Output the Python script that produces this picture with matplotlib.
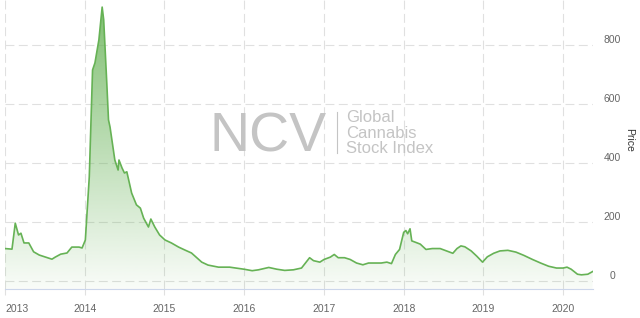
import numpy as np
import pandas as pd
import matplotlib
matplotlib.use("Agg")
import matplotlib.pyplot as plt
import matplotlib.dates as mdates
from matplotlib.lines import Line2D
from matplotlib.colors import to_rgb

plt.rcParams['font.family'] = ['Liberation Sans', 'DejaVu Sans']

# NCV Global Cannabis Stock Index
dates = [
    "2013-01-01", "2013-02-02", "2013-02-17", "2013-03-04", "2013-03-15", "2013-03-29",
    "2013-04-20", "2013-05-12", "2013-06-07", "2013-07-06", "2013-08-04", "2013-08-19",
    "2013-09-13", "2013-10-12", "2013-11-03", "2013-12-06", "2013-12-20", "2014-01-04",
    "2014-01-22", "2014-02-06", "2014-02-17", "2014-03-07", "2014-03-22", "2014-03-29",
    "2014-04-13", "2014-04-20", "2014-04-27", "2014-05-19", "2014-06-03", "2014-06-07",
    "2014-06-21", "2014-07-02", "2014-07-13", "2014-08-04", "2014-08-26", "2014-09-13",
    "2014-09-28", "2014-10-20", "2014-10-31", "2014-11-18", "2014-12-10", "2015-01-04",
    "2015-02-02", "2015-03-07", "2015-04-05", "2015-05-05", "2015-06-21", "2015-07-20",
    "2015-09-06", "2015-10-27", "2015-11-24", "2016-01-01", "2016-02-07", "2016-03-07",
    "2016-04-23", "2016-05-30", "2016-07-05", "2016-08-14", "2016-09-20", "2016-10-08",
    "2016-10-27", "2016-11-14", "2016-12-13", "2017-01-01", "2017-01-30", "2017-02-17",
    "2017-03-07", "2017-04-05", "2017-05-01", "2017-05-30", "2017-06-28", "2017-07-24",
    "2017-09-20", "2017-10-16", "2017-11-06", "2017-11-24", "2017-12-13", "2018-01-01",
    "2018-01-11", "2018-01-19", "2018-01-30", "2018-02-07", "2018-02-25", "2018-03-18",
    "2018-04-13", "2018-05-12", "2018-06-17", "2018-07-16", "2018-08-14", "2018-09-02",
    "2018-09-20", "2018-10-08", "2018-11-06", "2018-12-02", "2018-12-28", "2019-01-19",
    "2019-02-17", "2019-03-18", "2019-04-23", "2019-05-30", "2019-07-05", "2019-08-14",
    "2019-09-20", "2019-10-27", "2019-12-02", "2020-01-01", "2020-01-19", "2020-02-07",
    "2020-03-07", "2020-03-25", "2020-04-23", "2020-05-15",
]
prices = [
    110, 108, 196, 156, 162, 129,
    129, 99, 88, 81, 74, 81,
    91, 95, 115, 115, 112, 139,
    353, 715, 739, 817, 928, 885,
    658, 546, 522, 410, 376, 410,
    383, 366, 370, 298, 258, 247,
    213, 183, 210, 183, 156, 139,
    129, 115, 105, 95, 64, 54,
    47, 47, 44, 40, 35, 38,
    46, 40, 36, 38, 44, 61,
    79, 69, 64, 73, 81, 90,
    79, 79, 73, 61, 55, 61,
    61, 64, 59, 90, 107, 165,
    171, 160, 177, 136, 131, 125,
    107, 110, 110, 102, 94, 110,
    119, 116, 102, 84, 64, 82,
    94, 102, 104, 98, 87, 73,
    61, 50, 44, 44, 47, 40,
    23, 21, 23, 32,
]
y_ticks = [0, 200, 400, 600, 800]
x_years = [2013, 2014, 2015, 2016, 2017, 2018, 2019, 2020]

x = mdates.date2num(pd.to_datetime(dates))
y = np.array(prices, dtype=float)

line_col = '#66b255'
grid_col = '#e0e0e0'
ymin, ymax = -27, 952
xmin = mdates.date2num(pd.Timestamp("2013-01-01"))
xmax = mdates.date2num(pd.Timestamp("2020-05-17"))

fig = plt.figure(figsize=(6.4, 3.18), dpi=100)
ax = fig.add_axes([5/640, 1 - 289/318, 588/640, 289/318])

# gradient fill under the line
poly = ax.fill_between(x, y, ymin, facecolor='none', edgecolor='none')
rgb = to_rgb(line_col)
grad = np.zeros((256, 1, 4))
grad[:, 0, :3] = rgb
grad[:, 0, 3] = np.linspace(0.85, 0.04, 256)
im = ax.imshow(grad, extent=[xmin, xmax, ymin, ymax], aspect='auto',
               origin='upper', zorder=1, interpolation='bilinear')
im.set_clip_path(poly.get_paths()[0], transform=ax.transData)

ax.plot(x, y, color=line_col, lw=1.2, zorder=3)

ax.set_xlim(xmin, xmax)
ax.set_ylim(ymin, ymax)

ax.set_xticks(mdates.date2num([pd.Timestamp(f"{yr}-01-01") for yr in x_years]))
ax.set_xticklabels([str(yr) for yr in x_years])
ax.set_yticks(y_ticks)
ax.yaxis.tick_right()

ax.grid(True, color=grid_col, lw=0.8, linestyle=(0, (8, 4)), zorder=0)
ax.set_axisbelow(True)

for s in ['top', 'left', 'right']:
    ax.spines[s].set_visible(False)
ax.spines['bottom'].set_color('#ccd6eb')
ax.spines['bottom'].set_linewidth(0.8)

ax.tick_params(axis='x', length=4.5, width=0.8, color=grid_col, labelsize=7.5,
               labelcolor='#666666', pad=6)
ax.tick_params(axis='y', length=0, labelsize=7.5, labelcolor='#666666', pad=6)
for lab in ax.get_yticklabels():
    lab.set_va('bottom')
    lab.set_ha('center')
ax.yaxis.set_tick_params(pad=14)
ax.get_xticklabels()[0].set_ha('left')

fig.text(629/640, 1 - 140/318, 'Price', rotation=270, ha='center', va='center',
         fontsize=7.5, color='#333333')

# watermark
wm = '#c4c4c4'
fig.text(210/640, 1 - 152/318, 'NCV', fontsize=40, color=wm, ha='left', va='baseline')
fig.add_artist(Line2D([337/640, 337/640], [1 - 112/318, 1 - 153/318],
                      color=wm, lw=0.8, transform=fig.transFigure))
for txt, base in [('Global', 121.5), ('Cannabis', 137.5), ('Stock Index', 153.5)]:
    fig.text(346/640, 1 - base/318, txt, fontsize=12, color=wm, ha='left', va='baseline')

fig.savefig('out.png', dpi=100)
